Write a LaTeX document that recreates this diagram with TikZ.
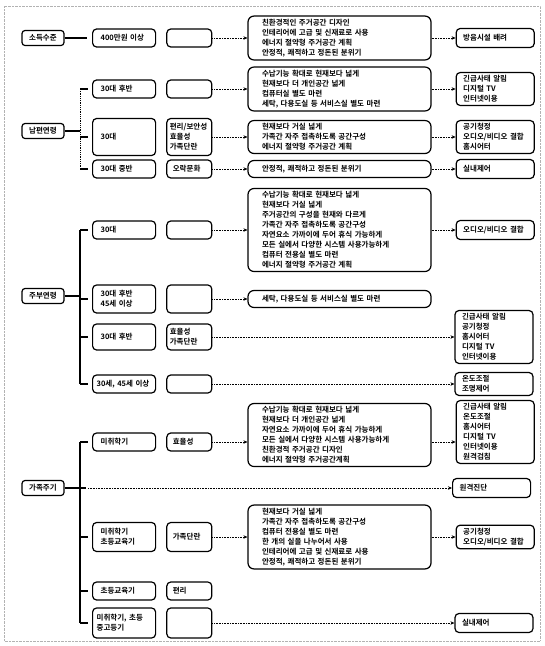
\documentclass[tikz,border=0pt]{standalone}
\usepackage{fontspec}
\setmainfont{Noto Sans CJK KR}[BoldFont={Noto Sans CJK KR Bold}]
\usepackage{tikz}
\usetikzlibrary{arrows.meta,positioning}

\begin{document}
\begin{tikzpicture}[
  x=1pt, y=-1pt,
  every node/.style={font=\fontsize{7.5}{10}\selectfont\bfseries},
  cat/.style={draw, very thick, rounded corners=3pt, minimum width=42pt, minimum height=15pt, inner sep=2pt},
  grp/.style={draw, very thick, rounded corners=4pt, text width=55pt, inner xsep=4pt, inner ysep=3pt, minimum height=18pt, align=left},
  attr/.style={draw, very thick, rounded corners=4pt, text width=39pt, inner xsep=3pt, inner ysep=3pt, minimum height=18pt, align=left},
  need/.style={draw, very thick, rounded corners=6pt, text width=155pt, inner xsep=14pt, inner ysep=3pt, minimum height=17pt, align=left},
  res/.style={draw, very thick, rounded corners=4pt, text width=64pt, inner xsep=7pt, inner ysep=3pt, minimum height=19pt, align=left},
  arrow/.style={densely dotted, semithick, -{Stealth[length=4pt,width=3.5pt]}},
  branch/.style={line width=1.6pt},
]
\useasboundingbox (0,0) rectangle (545,646);
\draw[gray!60, densely dotted] (4,6) rectangle (540,641);

% 소득수준
\node[cat] (inc) at (43,38) {소득수준};
\node[grp, anchor=west] (inc1) at (92,38) {\hspace{4pt}400만원 이상};
\node[attr, right=10pt of inc1] (inc1a) {};
\node[need, right=35pt of inc1a] (inc1n) {친환경적인 주거공간 디자인\\인테리어에 고급 및 신재료로 사용\\에너지 절약형 주거공간 계획\\안정적, 쾌적하고 정돈된 분위기};
\node[res, right=24pt of inc1n] (inc1r) {방음시설 배려};
\draw[branch, shorten >=5pt] (inc) -- (inc1);
\draw[arrow] (inc1a) -- (inc1n);
\draw[arrow] (inc1n) -- (inc1r);

% 남편연령
\node[cat] (hus) at (43,131) {남편연령};
\node[grp, anchor=west] (hus1) at (92,89) {\hspace{4pt}30대 후반};
\node[attr, right=10pt of hus1] (hus1a) {};
\node[need, right=35pt of hus1a] (hus1n) {수납기능 확대로 현재보다 넓게\\현재보다 더 개인공간 넓게\\컴퓨터실 별도 마련\\세탁, 다용도실 등 서비스실 별도 마련};
\node[res, right=24pt of hus1n] (hus1r) {긴급사태 알림\\디지털 TV\\인터넷이용};
\node[grp, anchor=west, minimum height=37pt] (hus2) at (92,137) {\hspace{4pt}30대};
\node[attr, right=10pt of hus2, minimum height=37pt] (hus2a) {편리/보안성\\효율성\\가족단란};
\node[need, right=35pt of hus2a] (hus2n) {현재보다 거실 넓게\\가족간 자주 접촉하도록 공간구성\\에너지 절약형 주거공간 계획};
\node[res, right=24pt of hus2n] (hus2r) {공기청정\\오디오/비디오 결합\\홈시어터};
\node[grp, anchor=west] (hus3) at (92,169) {\hspace{4pt}30대 중반};
\node[attr, right=10pt of hus3] (hus3a) {\hspace{3pt}오락문화};
\node[need, right=35pt of hus3a] (hus3n) {안정적, 쾌적하고 정돈된 분위기};
\node[res, right=24pt of hus3n] (hus3r) {실내제어};
\coordinate (hust) at (80,89);
\coordinate (husb) at (80,169);
\draw[densely dotted, thick] (hust) -- (husb);
\draw[branch] (hus.east) -- (hus.east -| hust);
\foreach \r in {hus1,hus2,hus3} {
  \draw[branch, shorten >=4pt] (\r.west -| hust) -- (\r.west);
  \draw[arrow] (\r a) -- (\r n);
  \draw[arrow] (\r n) -- (\r r);
}

% 주부연령
\node[cat] (wif) at (43,296) {주부연령};
\node[grp, anchor=west] (wif1) at (92,230) {\hspace{4pt}30대};
\node[attr, right=10pt of wif1] (wif1a) {};
\node[need, right=35pt of wif1a] (wif1n) {수납기능 확대로 현재보다 넓게\\현재보다 거실 넓게\\주거공간의 구성을 현재와 다르게\\가족간 자주 접촉하도록 공간구성\\자연요소 가까이에 두어 휴식 가능하게\\모든 실에서 다양한 시스템 사용가능하게\\컴퓨터 전용실 별도 마련\\에너지 절약형 주거공간 계획};
\node[res, right=24pt of wif1n] (wif1r) {오디오/비디오 결합};
\node[grp, anchor=west, minimum height=28pt] (wif2) at (92,299) {\hspace{4pt}30대 후반\\\hspace{4pt}45세 이상};
\node[attr, right=10pt of wif2, minimum height=28pt] (wif2a) {};
\node[need, right=35pt of wif2a] (wif2n) {세탁, 다용도실 등 서비스실 별도 마련};
\node[grp, anchor=west, minimum height=26pt] (wif3) at (92,337) {\hspace{4pt}30대 후반};
\node[attr, right=10pt of wif3, minimum height=26pt] (wif3a) {효율성\\가족단란};
\node[res, right=242pt of wif3a] (wif3r) {긴급사태 알림\\공기청정\\홈시어터\\디지털 TV\\인터넷이용};
\node[grp, anchor=west] (wif4) at (92,384) {30세, 45세 이상};
\node[attr, right=10pt of wif4] (wif4a) {};
\node[res, right=242pt of wif4a] (wif4r) {온도조절\\조명제어};
\coordinate (wift) at (80,230);
\coordinate (wifb) at (80,384);
\draw[branch] (wift) -- (wifb);
\draw[branch] (wif.east) -- (wif.east -| wift);
\foreach \r in {wif1,wif2,wif3,wif4}
  \draw[branch, shorten >=4pt] (\r.west -| wift) -- (\r.west);
\draw[arrow] (wif1a) -- (wif1n);
\draw[arrow] (wif1n) -- (wif1r);
\draw[arrow] (wif2a) -- (wif2n);
\draw[arrow] (wif3a) -- (wif3r);
\draw[arrow] (wif4a) -- (wif4r);

% 가족주기
\node[cat] (fam) at (43,488) {가족주기};
\node[grp, anchor=west] (fam1) at (92,442) {\hspace{4pt}미취학기};
\node[attr, right=10pt of fam1] (fam1a) {\hspace{3pt}효율성};
\node[need, right=35pt of fam1a, yshift=7pt] (fam1n) {수납기능 확대로 현재보다 넓게\\현재보다 더 개인공간 넓게\\자연요소 가까이에 두어 휴식 가능하게\\모든 실에서 다양한 시스템 사용가능하게\\친환경적 주거공간 디자인\\에너지 절약형 주거공간계획};
\node[res, right=24pt of fam1n, yshift=3pt] (fam1r) {긴급사태 알림\\온도조절\\홈시어터\\디지털 TV\\인터넷이용\\원격검침};
\node[res, anchor=west] (fam0r) at (452,488) {원격진단};
\node[grp, anchor=west, minimum height=29pt] (fam2) at (92,537) {\hspace{4pt}미취학기\\\hspace{4pt}초등교육기};
\node[attr, right=10pt of fam2, minimum height=29pt] (fam2a) {\hspace{3pt}가족단란};
\node[need, right=35pt of fam2a] (fam2n) {현재보다 거실 넓게\\가족간 자주 접촉하도록 공간구성\\컴퓨터 전용실 별도 마련\\한 개의 실을 나누어서 사용\\인테리어에 고급 및 신재료로 사용\\안정적, 쾌적하고 정돈된 분위기};
\node[res, right=24pt of fam2n] (fam2r) {공기청정\\오디오/비디오 결합};
\node[grp, anchor=west] (fam3) at (92,591) {\hspace{4pt}초등교육기};
\node[attr, right=10pt of fam3] (fam3a) {\hspace{3pt}편리};
\node[grp, anchor=west, minimum height=30pt] (fam4) at (92,623) {미취학기, 초등\\중고등기};
\node[attr, right=10pt of fam4, minimum height=30pt] (fam4a) {};
\node[res, right=242pt of fam4a] (fam4r) {실내제어};
\coordinate (famt) at (80,442);
\coordinate (famb) at (80,623);
\draw[branch] (famt) -- (famb);
\draw[branch] (fam.east) -- ([xshift=6pt]fam.east -| famt);
\foreach \r in {fam1,fam2,fam3,fam4}
  \draw[branch, shorten >=4pt] (\r.west -| famt) -- (\r.west);
\draw[arrow] ([xshift=8pt]fam.east -| famt) -- (fam0r);
\draw[arrow] (fam1a.east) -- (fam1a.east -| fam1n.west);
\draw[arrow] (fam1n.east |- fam1a) -- (fam1n.east |- fam1a -| fam1r.west);
\draw[arrow] (fam2a) -- (fam2n);
\draw[arrow] (fam2n) -- (fam2r);
\draw[arrow] (fam4a) -- (fam4r);

\end{tikzpicture}
\end{document}
